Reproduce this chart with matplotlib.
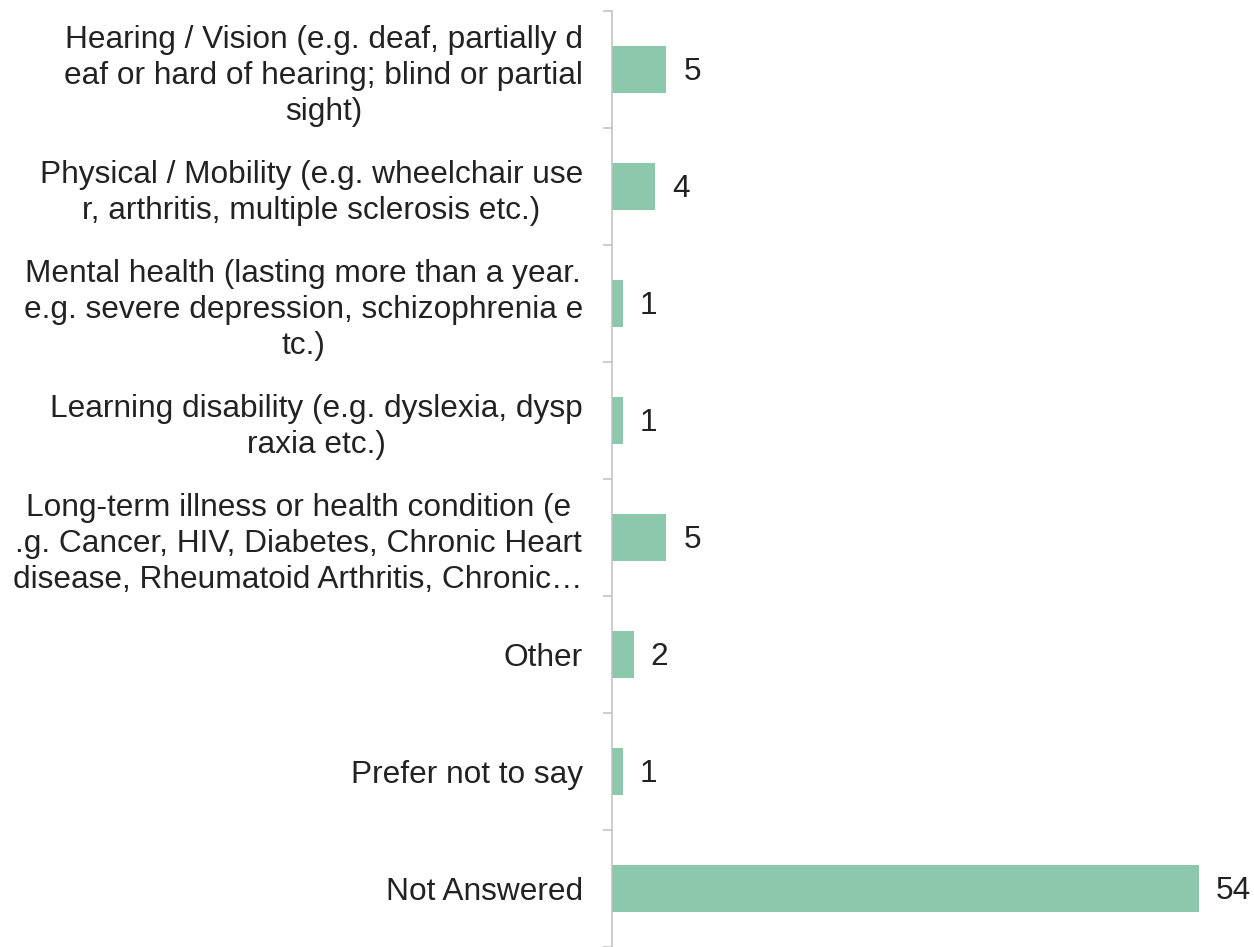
import matplotlib
matplotlib.use("Agg")
import matplotlib.pyplot as plt
import numpy as np

categories = [
    "Hearing / Vision (e.g. deaf, partially d\neaf or hard of hearing; blind or partial\nsight)",
    "Physical / Mobility (e.g. wheelchair use\nr, arthritis, multiple sclerosis etc.)",
    "Mental health (lasting more than a year.\ne.g. severe depression, schizophrenia e\ntc.)",
    "Learning disability (e.g. dyslexia, dysp\nraxia etc.)",
    "Long-term illness or health condition (e\n.g. Cancer, HIV, Diabetes, Chronic Heart\ndisease, Rheumatoid Arthritis, Chronic\u2026",
    "Other",
    "Prefer not to say",
    "Not Answered",
]
values = [5, 4, 1, 1, 5, 2, 1, 54]

plt.rcParams['font.family'] = ['Liberation Sans', 'DejaVu Sans']
TEXT = '#222222'
GRAY = '#BFBFBF'
BAR = '#8CC9AC'
FS = 22.8

fig = plt.figure(figsize=(12.54, 9.47), dpi=100)
ax = fig.add_axes([612/1254, 0.0, (1199-612)/1254, 1 - 11/947])

y = np.arange(len(categories))
ax.barh(y, values, height=0.4, color=BAR, zorder=2)
ax.set_xlim(0, 54)
ax.set_ylim(len(categories) - 0.5, -0.5)

for yi, v in zip(y, values):
    ax.annotate(str(v), xy=(v, yi), xytext=(12.2, -2.0), textcoords='offset points',
                ha='left', va='center', fontsize=FS, color=TEXT, annotation_clip=False)

ax.set_yticks(y)
ax.set_yticklabels(categories, fontsize=FS, color=TEXT, multialignment='center',
                   linespacing=1.27)
ax.tick_params(axis='y', which='major', length=0, pad=20.9)
ax.set_yticks(np.arange(-0.5, len(categories) + 0.5, 1.0), minor=True)
ax.tick_params(axis='y', which='minor', length=6.5, width=1.1, color=GRAY)

ax.xaxis.set_visible(False)
for s in ['top', 'right', 'bottom']:
    ax.spines[s].set_visible(False)
ax.spines['left'].set_color(GRAY)
ax.spines['left'].set_linewidth(1.1)

fig.savefig('out.png', dpi=100, facecolor='white')
